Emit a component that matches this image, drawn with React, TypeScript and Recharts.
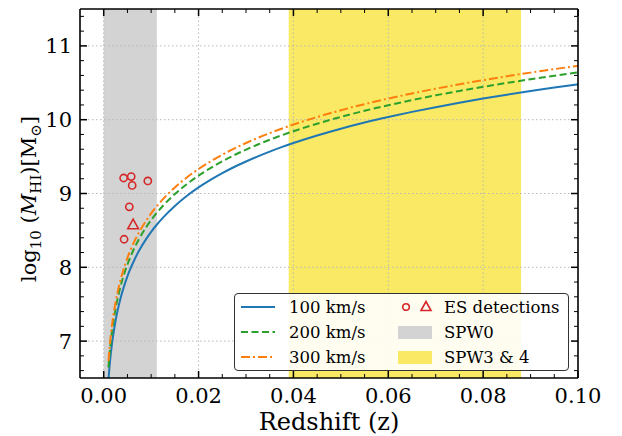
import { ComposedChart, Line, Scatter, XAxis, YAxis, ReferenceArea, ReferenceLine } from "recharts";

// redshift grid the limit curves are read at
const redshift = [
  0.001, 0.00125, 0.0015, 0.00175, 0.002, 0.0025, 0.003, 0.0035, 0.004, 0.0045, 0.005,
  0.0055, 0.0065, 0.0075, 0.009, 0.01, 0.011, 0.0125, 0.015, 0.0175, 0.02, 0.0225,
  0.025, 0.0275, 0.03, 0.0325, 0.035, 0.0375, 0.04, 0.045, 0.05, 0.055, 0.06, 0.065,
  0.07, 0.075, 0.08, 0.085, 0.09, 0.095, 0.1,
];
// log10 M_HI limit for each velocity width
const mass100 = [
  6.48, 6.674, 6.832, 6.966, 7.082, 7.276, 7.434, 7.568, 7.684, 7.786, 7.878,
  7.961, 8.106, 8.23, 8.388, 8.48, 8.563, 8.674, 8.832, 8.966, 9.082, 9.184,
  9.276, 9.359, 9.434, 9.504, 9.568, 9.628, 9.684, 9.786, 9.878, 9.961, 10.036, 10.106,
  10.17, 10.23, 10.286, 10.339, 10.388, 10.435, 10.48,
];
const mass200 = [
  6.64, 6.834, 6.992, 7.126, 7.242, 7.436, 7.594, 7.728, 7.844, 7.946, 8.038,
  8.121, 8.266, 8.39, 8.548, 8.64, 8.723, 8.834, 8.992, 9.126, 9.242, 9.344,
  9.436, 9.519, 9.594, 9.664, 9.728, 9.788, 9.844, 9.946, 10.038, 10.121, 10.196, 10.266,
  10.33, 10.39, 10.446, 10.499, 10.548, 10.595, 10.64,
];
const mass300 = [
  6.73, 6.924, 7.082, 7.216, 7.332, 7.526, 7.684, 7.818, 7.934, 8.036, 8.128,
  8.211, 8.356, 8.48, 8.638, 8.73, 8.813, 8.924, 9.082, 9.216, 9.332, 9.434,
  9.526, 9.609, 9.684, 9.754, 9.818, 9.878, 9.934, 10.036, 10.128, 10.211, 10.286, 10.356,
  10.42, 10.48, 10.536, 10.589, 10.638, 10.685, 10.73,
];

// ES detections
const esCircleZ = [0.0042, 0.0058, 0.006, 0.0093, 0.0054, 0.0043];
const esCircleMass = [9.21, 9.23, 9.11, 9.17, 8.82, 8.38];
const esTriZ = [0.0062];
const esTriMass = [8.57];

// spectral windows
const spw0 = [0, 0.0112];
const spw34 = [0.039, 0.088];

const xTicks = [
  0, 0.005, 0.01, 0.015, 0.02, 0.025, 0.03, 0.035, 0.04, 0.045, 0.05,
  0.055, 0.06, 0.065, 0.07, 0.075, 0.08, 0.085, 0.09, 0.095, 0.1,
];
const xMajor = [0, 0.02, 0.04, 0.06, 0.08, 0.1];
const yTicks = [
  6.6, 6.8, 7, 7.2, 7.4, 7.6, 7.8, 8, 8.2, 8.4, 8.6, 8.8, 9, 9.2, 9.4, 9.6, 9.8,
  10, 10.2, 10.4, 10.6, 10.8, 11, 11.2, 11.4,
];
const yMajor = [7, 8, 9, 10, 11];
const xGrid = [0, 0.02, 0.04, 0.06, 0.08];

const curve = (vals: number[]) => redshift.map((z, i) => ({ z, m: vals[i] }));
const points = (zs: number[], ms: number[]) => zs.map((z, i) => ({ z, m: ms[i] }));

const lines = [
  { key: "100", data: curve(mass100), color: "#1f77b4", dash: undefined, label: "100 km/s" },
  { key: "200", data: curve(mass200), color: "#2ca02c", dash: "7 3.5", label: "200 km/s" },
  { key: "300", data: curve(mass300), color: "#ff7f0e", dash: "9 3 2 3", label: "300 km/s" },
];

const RED = "#d62728";
const FONT = "'DejaVu Serif', serif";
const isMajor = (v: number, list: number[]) => list.some((m) => Math.abs(m - v) < 1e-9);

const BottomTick = ({ x, y, payload }: any) => {
  const major = isMajor(payload.value, xMajor);
  return (
    <g>
      <line x1={x} x2={x} y1={y} y2={y - (major ? 7 : 4)} stroke="#000" strokeWidth={major ? 1.5 : 1} />
      {major && (
        <text x={x} y={y + 9} dy="0.74em" textAnchor="middle" fontFamily={FONT} fontSize={21} fill="#000">
          {payload.value.toFixed(2)}
        </text>
      )}
    </g>
  );
};

const TopTick = ({ x, y, payload }: any) => {
  const major = isMajor(payload.value, xMajor);
  return <line x1={x} x2={x} y1={y} y2={y + (major ? 7 : 4)} stroke="#000" strokeWidth={major ? 1.5 : 1} />;
};

const LeftTick = ({ x, y, payload }: any) => {
  const major = isMajor(payload.value, yMajor);
  return (
    <g>
      <line x1={x} x2={x + (major ? 7 : 4)} y1={y} y2={y} stroke="#000" strokeWidth={major ? 1.5 : 1} />
      {major && (
        <text x={x - 8} y={y} dy="0.36em" textAnchor="end" fontFamily={FONT} fontSize={21} fill="#000">
          {payload.value}
        </text>
      )}
    </g>
  );
};

const RightTick = ({ x, y, payload }: any) => {
  const major = isMajor(payload.value, yMajor);
  return <line x1={x} x2={x - (major ? 7 : 4)} y1={y} y2={y} stroke="#000" strokeWidth={major ? 1.5 : 1} />;
};

const Circle = ({ cx, cy }: any) => (
  <circle cx={cx} cy={cy} r={3.6} fill="none" stroke={RED} strokeWidth={1.6} />
);
const Triangle = ({ cx, cy }: any) => (
  <polygon
    points={`${cx},${cy - 6} ${cx - 5.3},${cy + 3.5} ${cx + 5.3},${cy + 3.5}`}
    fill="none"
    stroke={RED}
    strokeWidth={1.6}
    strokeLinejoin="miter"
  />
);

const axisLine = { stroke: "#000", strokeWidth: 1.6 };

const LegendBox = () => (
  <div
    style={{
      position: "absolute",
      left: 234,
      top: 293,
      width: 335,
      height: 78,
      border: "1px solid #333",
      borderRadius: 4,
      background: "rgba(255,255,255,0.9)",
      boxSizing: "border-box",
      fontFamily: FONT,
      fontSize: 16.5,
      color: "#000",
    }}
  >
    {lines.map((l, i) => (
      <div key={l.key} style={{ position: "absolute", left: 5, top: 3 + i * 25, height: 20, display: "flex", alignItems: "center" }}>
        <svg width={36} height={10}>
          <line x1={1} x2={35} y1={5} y2={5} stroke={l.color} strokeWidth={2} strokeDasharray={l.dash} />
        </svg>
        <span style={{ marginLeft: 13 }}>{l.label}</span>
      </div>
    ))}
    <div style={{ position: "absolute", left: 163, top: 3, height: 20, display: "flex", alignItems: "center" }}>
      <svg width={36} height={14}>
        <circle cx={8} cy={7} r={3.3} fill="none" stroke={RED} strokeWidth={1.6} />
        <polygon points="28,1.5 23,10.5 33,10.5" fill="none" stroke={RED} strokeWidth={1.6} />
      </svg>
      <span style={{ marginLeft: 10 }}>ES detections</span>
    </div>
    <div style={{ position: "absolute", left: 163, top: 28, height: 20, display: "flex", alignItems: "center" }}>
      <div style={{ width: 34, height: 13, background: "#d3d3d3" }} />
      <span style={{ marginLeft: 12 }}>SPW0</span>
    </div>
    <div style={{ position: "absolute", left: 163, top: 53, height: 20, display: "flex", alignItems: "center" }}>
      <div style={{ width: 34, height: 13, background: "#f9e964" }} />
      <span style={{ marginLeft: 12 }}>SPW3 &amp; 4</span>
    </div>
  </div>
);

export default function App() {
  return (
    <div style={{ position: "absolute", left: 0, top: 0, width: 622, height: 436, background: "#fff" }}>
      <ComposedChart width={622} height={436} margin={{ top: 0, right: 0, bottom: 0, left: 0 }}>
        <XAxis
          xAxisId="b"
          dataKey="z"
          type="number"
          orientation="bottom"
          domain={[-0.005, 0.1]}
          allowDataOverflow
          ticks={xTicks}
          interval={0}
          height={58}
          tickSize={0}
          tickMargin={0}
          tick={<BottomTick />}
          tickLine={false}
          axisLine={axisLine}
        />
        <XAxis
          xAxisId="t"
          dataKey="z"
          type="number"
          orientation="top"
          domain={[-0.005, 0.1]}
          allowDataOverflow
          ticks={xTicks}
          interval={0}
          height={9}
          tickSize={0}
          tickMargin={0}
          tick={<TopTick />}
          tickLine={false}
          axisLine={axisLine}
        />
        <YAxis
          yAxisId="l"
          dataKey="m"
          type="number"
          orientation="left"
          domain={[6.5, 11.5]}
          allowDataOverflow
          ticks={yTicks}
          interval={0}
          width={80}
          tickSize={0}
          tickMargin={0}
          tick={<LeftTick />}
          tickLine={false}
          axisLine={axisLine}
        />
        <YAxis
          yAxisId="r"
          dataKey="m"
          type="number"
          orientation="right"
          domain={[6.5, 11.5]}
          allowDataOverflow
          ticks={yTicks}
          interval={0}
          width={44}
          tickSize={0}
          tickMargin={0}
          tick={<RightTick />}
          tickLine={false}
          axisLine={axisLine}
        />
        <ReferenceArea xAxisId="b" yAxisId="l" x1={spw0[0]} x2={spw0[1]} fill="#d3d3d3" fillOpacity={1} stroke="none" />
        <ReferenceArea xAxisId="b" yAxisId="l" x1={spw34[0]} x2={spw34[1]} fill="#f9e964" fillOpacity={1} stroke="none" />
        {xGrid.map((v) => (
          <ReferenceLine key={"x" + v} xAxisId="b" yAxisId="l" x={v} stroke="#b8b8b8" strokeWidth={1} strokeDasharray="1.5 2.5" />
        ))}
        {yMajor.map((v) => (
          <ReferenceLine key={"y" + v} xAxisId="b" yAxisId="l" y={v} stroke="#b8b8b8" strokeWidth={1} strokeDasharray="1.5 2.5" />
        ))}
        {lines.map((l) => (
          <Line
            key={l.key}
            xAxisId="b"
            yAxisId="l"
            data={l.data}
            dataKey="m"
            type="monotone"
            stroke={l.color}
            strokeWidth={2}
            strokeDasharray={l.dash}
            dot={false}
            activeDot={false}
            isAnimationActive={false}
          />
        ))}
        <Scatter xAxisId="b" yAxisId="l" data={points(esCircleZ, esCircleMass)} dataKey="m" shape={<Circle />} isAnimationActive={false} />
        <Scatter xAxisId="b" yAxisId="l" data={points(esTriZ, esTriMass)} dataKey="m" shape={<Triangle />} isAnimationActive={false} />
      </ComposedChart>
      <svg width={60} height={436} style={{ position: "absolute", left: 0, top: 0 }}>
        <text transform="translate(36,199) rotate(-90)" textAnchor="middle" fontFamily={FONT} fontSize={21} fill="#000">
          log<tspan dy={5} fontSize={15}>10</tspan>
          <tspan dy={-5}> (</tspan>
          <tspan fontStyle="italic">M</tspan>
          <tspan dy={5} fontSize={15}>HI</tspan>
          <tspan dy={-5}>)[M</tspan>
          <tspan dy={5} fontSize={15}>⊙</tspan>
          <tspan dy={-5}>]</tspan>
        </text>
      </svg>
      <div
        style={{
          position: "absolute",
          left: 80,
          top: 410,
          width: 498,
          textAlign: "center",
          fontFamily: FONT,
          fontSize: 24,
          lineHeight: "24px",
          color: "#000",
        }}
      >
        Redshift (z)
      </div>
      <LegendBox />
    </div>
  );
}
